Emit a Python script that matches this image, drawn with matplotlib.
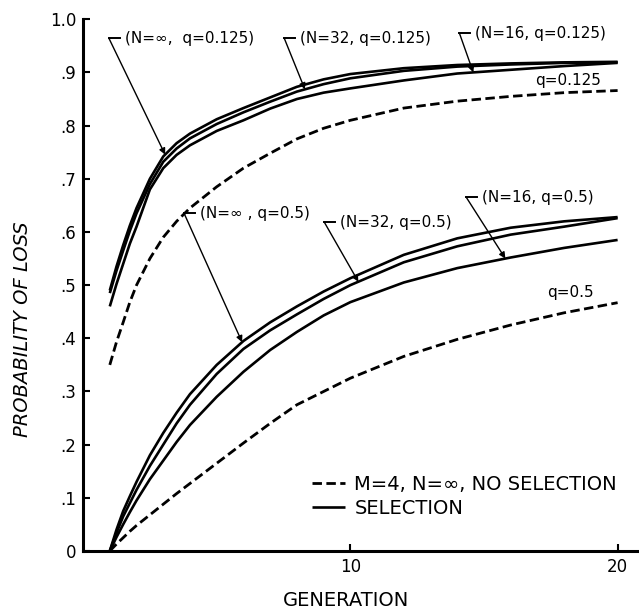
import numpy as np
import matplotlib
matplotlib.use("Agg")
import matplotlib.pyplot as plt
from matplotlib.lines import Line2D

# generation values at which the curves were read
gens = [1, 1.25, 1.5, 1.75, 2, 2.5, 3, 3.5, 4, 5, 6, 7, 8, 9, 10, 12, 14, 16, 18, 20]

# q = 0.125, selection
sel_inf_q125 = [0.49, 0.535, 0.575, 0.612, 0.645, 0.70, 0.742, 0.767, 0.785, 0.812, 0.833, 0.853, 0.873, 0.887, 0.897, 0.908, 0.914, 0.917, 0.919, 0.920]
sel_32_q125 = [0.485, 0.527, 0.565, 0.602, 0.635, 0.69, 0.732, 0.757, 0.776, 0.803, 0.825, 0.845, 0.864, 0.878, 0.889, 0.903, 0.911, 0.915, 0.918, 0.919]
sel_16_q125 = [0.46, 0.502, 0.54, 0.578, 0.61, 0.68, 0.72, 0.745, 0.763, 0.79, 0.81, 0.832, 0.85, 0.862, 0.87, 0.885, 0.898, 0.905, 0.912, 0.918]
# q = 0.125, no selection
nosel_q125 = [0.35, 0.393, 0.43, 0.468, 0.50, 0.55, 0.59, 0.62, 0.645, 0.685, 0.72, 0.748, 0.775, 0.795, 0.81, 0.833, 0.846, 0.855, 0.862, 0.866]

# q = 0.5, selection
sel_inf_q5 = [0.0, 0.04, 0.075, 0.103, 0.13, 0.18, 0.222, 0.26, 0.295, 0.35, 0.395, 0.43, 0.46, 0.488, 0.513, 0.557, 0.588, 0.608, 0.62, 0.628]
sel_32_q5 = [0.0, 0.034, 0.065, 0.09, 0.115, 0.16, 0.2, 0.24, 0.275, 0.333, 0.38, 0.415, 0.445, 0.474, 0.50, 0.543, 0.573, 0.595, 0.61, 0.626]
sel_16_q5 = [0.0, 0.026, 0.05, 0.073, 0.095, 0.135, 0.17, 0.205, 0.237, 0.29, 0.337, 0.378, 0.412, 0.443, 0.468, 0.505, 0.532, 0.552, 0.57, 0.585]
# q = 0.5, no selection
nosel_q5 = [0.0, 0.013, 0.025, 0.037, 0.048, 0.068, 0.088, 0.108, 0.127, 0.165, 0.203, 0.24, 0.275, 0.30, 0.325, 0.366, 0.398, 0.425, 0.448, 0.467]

y_ticks = [0, 0.1, 0.2, 0.3, 0.4, 0.5, 0.6, 0.7, 0.8, 0.9, 1.0]
y_labels = ["0", ".1", ".2", ".3", ".4", ".5", ".6", ".7", ".8", ".9", "1.0"]
x_ticks = [10, 20]

plt.rcParams["font.family"] = ["DejaVu Sans"]

fig = plt.figure(figsize=(6.39, 6.14), dpi=100)
ax = fig.add_axes([0.130, 0.1026, 0.87, 0.866])

solid_kw = dict(color="black", lw=1.9, solid_capstyle="butt")
dash_kw = dict(color="black", lw=2.0, dashes=(3.4, 1.6))

for vals in [sel_inf_q125, sel_32_q125, sel_16_q125, sel_inf_q5, sel_32_q5, sel_16_q5]:
    ax.plot(gens, vals, **solid_kw)
for vals in [nosel_q125, nosel_q5]:
    ax.plot(gens, vals, **dash_kw)

# labels with hooked arrows: (text, text_x, text_y, curve, gen at arrow tip)
notes = [
    ("(N=\u221e,  q=0.125)", 1.57, 0.964, sel_inf_q125, 3.07),
    ("(N=32, q=0.125)", 8.13, 0.964, sel_32_q125, 8.3),
    ("(N=16, q=0.125)", 14.68, 0.974, sel_16_q125, 14.6),
    ("(N=\u221e , q=0.5)", 4.38, 0.635, sel_inf_q5, 5.95),
    ("(N=32, q=0.5)", 9.63, 0.618, sel_32_q5, 10.3),
    ("(N=16, q=0.5)", 14.94, 0.665, sel_16_q5, 15.8),
]
for txt, tx, ty, curve, g in notes:
    ax.text(tx, ty, txt, fontsize=11, ha="left", va="center")
    cx = tx - 0.6
    ax.plot([cx, cx + 0.4], [ty, ty], color="black", lw=1.4)
    tip = (g, np.interp(g, gens, curve))
    ax.annotate("", xy=tip, xytext=(cx, ty),
                arrowprops=dict(arrowstyle="-|>", color="black", lw=1.0,
                                mutation_scale=9, shrinkA=0, shrinkB=0))

ax.text(16.93, 0.885, "q=0.125", fontsize=11, ha="left", va="center")
ax.text(17.38, 0.487, "q=0.5", fontsize=11, ha="left", va="center")

ax.set_xlim(0, 20.8)
ax.set_ylim(0, 1.0)
ax.set_yticks(y_ticks)
ax.set_yticklabels(y_labels)
ax.set_xticks(x_ticks)
ax.tick_params(direction="in", length=5, width=1.5, labelsize=12, pad=5)
for side in ["top", "right"]:
    ax.spines[side].set_visible(False)
for side in ["left", "bottom"]:
    ax.spines[side].set_linewidth(2.2)

ax.set_xlabel("GENERATION", fontsize=14)
ax.xaxis.set_label_coords(0.473, -0.075)
ax.set_ylabel("PROBABILITY OF LOSS", fontsize=14, fontstyle="italic")
ax.yaxis.set_label_coords(-0.092, 0.417)

handles = [Line2D([], [], **dash_kw), Line2D([], [], **solid_kw)]
ax.legend(handles, ["M=4, N=\u221e, NO SELECTION", "SELECTION"],
          loc="upper left", bbox_to_anchor=(0.397, 0.158), frameon=False,
          fontsize=14, handlelength=1.7, handletextpad=0.5, labelspacing=0.25,
          borderaxespad=0)

fig.savefig("out.png", dpi=100)
